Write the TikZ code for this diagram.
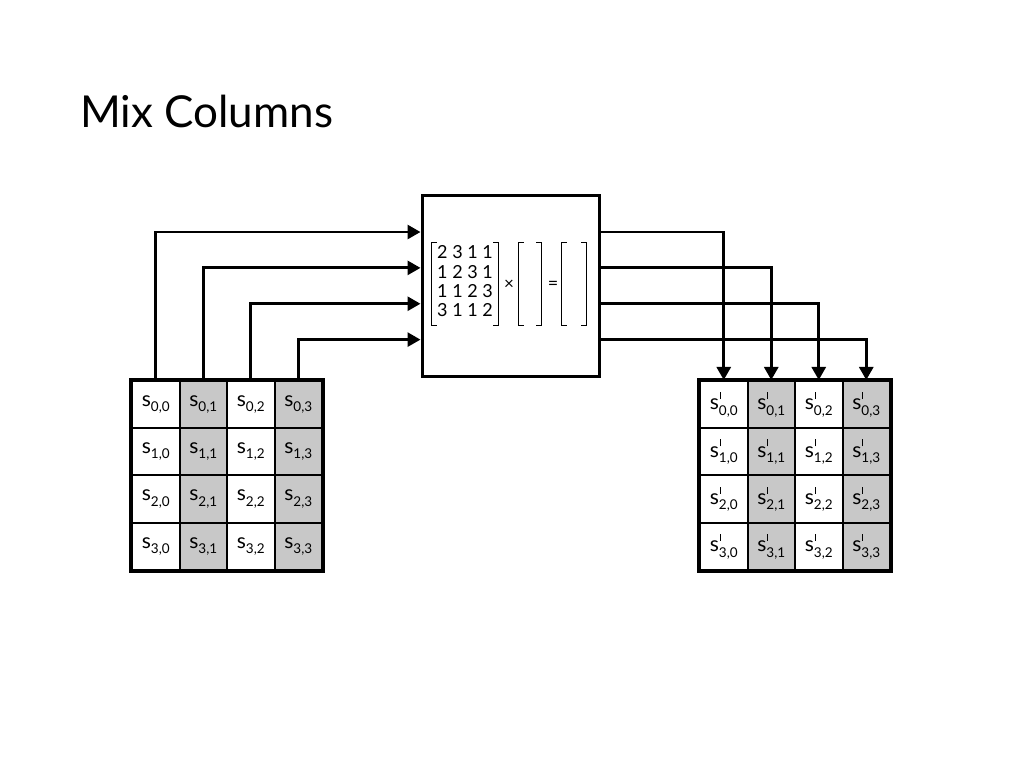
\documentclass[tikz,border=0pt]{standalone}
\usepackage{fontspec}
\setmainfont{Lato}
\usetikzlibrary{arrows.meta,positioning,calc}
\definecolor{cellgray}{HTML}{C8C8C8}

\newcommand{\subtext}[1]{\raisebox{-0.5ex}{\fontsize{13.5}{13.5}\selectfont#1}}
\newcommand{\sval}[1]{s\subtext{#1}}
\newcommand{\spval}[1]{s\rlap{\hspace{0.8pt}\rule[0.52em]{1.1pt}{0.33em}}\subtext{#1}}

\begin{document}
\begin{tikzpicture}[
  x=1pt, y=-1pt,
  >={Triangle[length=13pt,width=14pt]},
  statecell/.style={
    draw=black,
    line width=2pt,
    minimum width=47.5pt,
    minimum height=47.25pt,
    inner sep=0pt,
    font=\fontsize{21}{21}\selectfont
  },
  mixbox/.style={
    draw=black,
    line width=3pt,
    minimum width=177pt,
    minimum height=180pt,
    inner sep=0pt
  },
  feed/.style={
    ->,
    line width=2.8pt,
    draw=black
  },
  bracket/.style={
    line width=1.2pt
  }
]
  \useasboundingbox (0,0) rectangle (1024,767);

  % -------------------------------------------------------------
  % TITLE
  % -------------------------------------------------------------
  \node[anchor=base west, inner sep=0pt, font=\fontsize{44}{44}\selectfont] (title) at (80,128) {Mix Columns};

  % -------------------------------------------------------------
  % STATE GRIDS (INPUT LEFT, OUTPUT RIGHT)
  % -------------------------------------------------------------
  \foreach \r in {0,...,3}
    \foreach \c/\fc in {0/white,1/cellgray,2/white,3/cellgray} {
      \node[statecell, fill=\fc] (l\r\c) at (155.75+47.5*\c, 404.6+47.25*\r) {\sval{\r,\c}};
      \node[statecell, fill=\fc] (r\r\c) at (723.75+47.5*\c, 404.6+47.25*\r) {\spval{\r,\c}};
    }
  \draw[line width=3.2pt] (l00.north west) rectangle (l33.south east);
  \draw[line width=3.2pt] (r00.north west) rectangle (r33.south east);

  % -------------------------------------------------------------
  % MIX COLUMNS MATRIX BOX
  % -------------------------------------------------------------
  \node[mixbox] (mix) at (510.5,286) {};

  \node[inner sep=0pt, minimum width=66pt, minimum height=82pt, font=\fontsize{18}{20}\selectfont] (coef) at (465,284) {%
    \setlength{\tabcolsep}{2.3pt}\renewcommand{\arraystretch}{0.97}%
    \begin{tabular}{@{}cccc@{}}
      2 & 3 & 1 & 1\\
      1 & 2 & 3 & 1\\
      1 & 1 & 2 & 3\\
      3 & 1 & 1 & 2
    \end{tabular}};
  \node[inner sep=0pt, font=\fontsize{17}{17}\selectfont] (times) at (509,285) {×};
  \node[inner sep=0pt, minimum width=22pt, minimum height=82pt] (vin) at (530,284) {};
  \node[inner sep=0pt, font=\fontsize{18}{18}\selectfont] (equals) at (553,285) {=};
  \node[inner sep=0pt, minimum width=24pt, minimum height=82pt] (vout) at (574,284) {};

  % brackets round the matrix and the two vectors
  \foreach \v in {coef,vin,vout} {
    \draw[bracket] ($(\v.north west)+(5,0)$) -- (\v.north west) -- (\v.south west) -- ++(5,0);
    \draw[bracket] ($(\v.north east)+(-5,0)$) -- (\v.north east) -- (\v.south east) -- ++(-5,0);
  }

  % -------------------------------------------------------------
  % COLUMN FEEDS INTO AND OUT OF THE BOX
  % -------------------------------------------------------------
  \foreach \c in {0,...,3} {
    \draw[feed] (l0\c.north) |- ($(mix.north west)!{0.205+0.196*\c}!(mix.south west)$);
    \draw[feed] ($(mix.north east)!{0.205+0.196*\c}!(mix.south east)$) -| (r0\c.north);
  }

\end{tikzpicture}
\end{document}
